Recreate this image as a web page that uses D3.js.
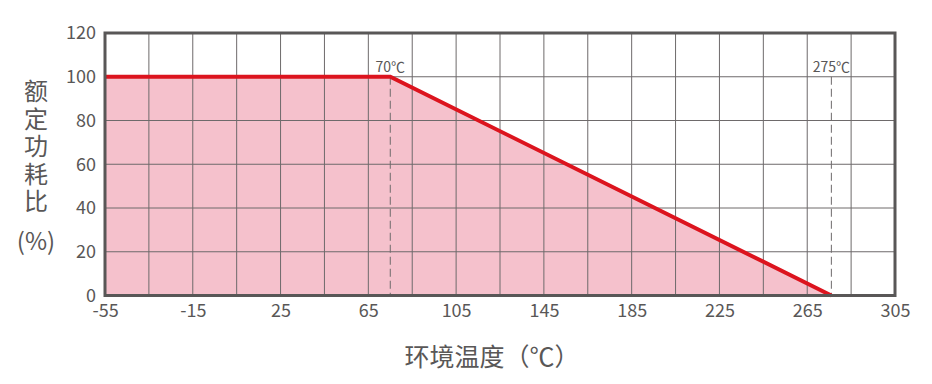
<!DOCTYPE html>
<html><head><meta charset="utf-8">
<script src="https://cdn.jsdelivr.net/npm/d3@7"></script>
<style>body{margin:0;background:#fff}svg{display:block}text{font-family:"Noto Sans CJK SC","Noto Sans",sans-serif;fill:#595757}</style>
</head><body><svg id="c" width="932" height="384"></svg>
<script>
const xTicks = [-55,-15,25,65,105,145,185,225,265,305];
const yTicks = [0,20,40,60,80,100,120];
const curveT = [-55, 75, 276];
const curveP = [100, 100, 0];
const marks = [{t:75, label:"70℃", top:100},{t:276, label:"275℃", top:100}];
const yTitle = "额定功耗比";
const yUnit = "(%)";
const xTitle = "环境温度（℃）";

const W=932,H=384, L=105, R=895, T=33, B=295.5;
const svg=d3.select("#c");
const x=d3.scaleLinear().domain([-55,305]).range([L,R]);
const y=d3.scaleLinear().domain([0,120]).range([B,T]);
const pts=curveT.map((t,i)=>[t,curveP[i]]);

// fill
svg.append("path").datum(pts)
  .attr("d",d3.area().x(d=>x(d[0])).y0(y(0)).y1(d=>y(d[1])))
  .attr("fill","#f5c1cc");

// grid
const gx=d3.range(-55,306,20);
svg.append("g").selectAll("line").data(gx).join("line")
  .attr("x1",d=>x(d)).attr("x2",d=>x(d)).attr("y1",T).attr("y2",B)
  .attr("stroke","#6e6a6b").attr("stroke-width",1);
svg.append("g").selectAll("line").data(yTicks).join("line")
  .attr("x1",L).attr("x2",R).attr("y1",d=>y(d)).attr("y2",d=>y(d))
  .attr("stroke","#6e6a6b").attr("stroke-width",1);

// dashed marks
svg.append("g").selectAll("line").data(marks).join("line")
  .attr("x1",d=>x(d.t)).attr("x2",d=>x(d.t)).attr("y1",d=>y(d.top)).attr("y2",B)
  .attr("stroke","#6e6a6b").attr("stroke-width",1).attr("stroke-dasharray","8,4");
svg.append("g").selectAll("text").data(marks).join("text")
  .attr("x",d=>x(d.t)).attr("y",y(100)-5).attr("text-anchor","middle")
  .attr("font-size",14).text(d=>d.label);

// line
svg.append("path").datum(pts)
  .attr("d",d3.line().x(d=>x(d[0])).y(d=>y(d[1])))
  .attr("fill","none").attr("stroke","#dc141e").attr("stroke-width",4).attr("stroke-linejoin","miter");

// border
svg.append("rect").attr("x",L).attr("y",T).attr("width",R-L).attr("height",B-T)
  .attr("fill","none").attr("stroke","#595757").attr("stroke-width",3);

// axes
const fmt=d=>String(d);
const ax=svg.append("g").attr("transform",`translate(0,${B})`)
  .call(d3.axisBottom(x).tickValues(xTicks).tickFormat(fmt).tickSize(0).tickPadding(9));
ax.select(".domain").remove();
ax.selectAll("text").attr("font-size",18).attr("fill","#595757")
  .style("font-family",'"Noto Sans CJK SC","Noto Sans",sans-serif');
const ay=svg.append("g").attr("transform",`translate(${L},0)`)
  .call(d3.axisLeft(y).tickValues(yTicks).tickFormat(fmt).tickSize(0).tickPadding(9));
ay.select(".domain").remove();
ay.selectAll("text").attr("font-size",18).attr("fill","#595757")
  .style("font-family",'"Noto Sans CJK SC","Noto Sans",sans-serif');

// y title (vertical)
svg.append("text").attr("x",36).attr("y",79)
  .style("writing-mode","vertical-rl").style("letter-spacing","3.5px")
  .attr("font-size",24).text(yTitle);
svg.append("text").attr("x",36).attr("y",242).attr("dy","0.35em")
  .attr("text-anchor","middle").attr("font-size",24).text(yUnit);

// x title
svg.append("text").attr("x",492).attr("y",357).attr("dy","0.35em")
  .attr("text-anchor","middle").attr("font-size",25).text(xTitle);
</script></body></html>
